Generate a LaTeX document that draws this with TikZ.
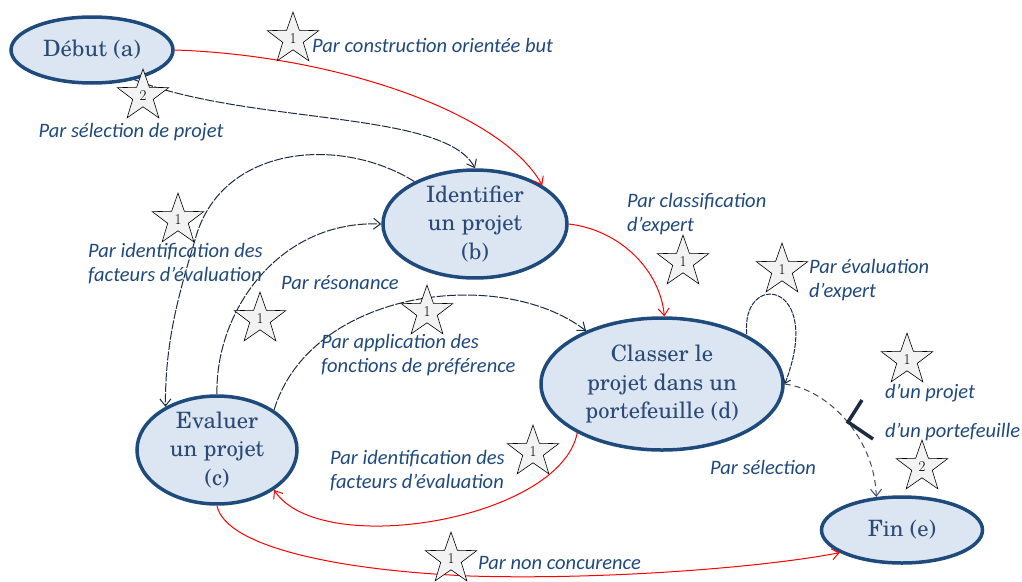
\documentclass[tikz,border=0pt]{standalone}
\usepackage{fontspec}
\newfontfamily\labfont{Carlito}
\newfontfamily\nodefont{texgyreschola-regular.otf}
\usetikzlibrary{shapes.geometric,arrows.meta}
\definecolor{nodefill}{HTML}{DCE6F2}
\definecolor{nodeborder}{HTML}{1F4A7C}
\definecolor{nodetext}{HTML}{2B4A76}
\definecolor{labtext}{HTML}{1F497D}
\definecolor{redline}{HTML}{FF0000}
\definecolor{darkline}{HTML}{1C2B40}
\begin{document}
\begin{tikzpicture}[x=1pt,y=-1pt,
  state/.style={ellipse,draw=nodeborder,line width=3.5pt,fill=nodefill,inner sep=0pt,
    text=nodetext,align=center,font=\nodefont\fontsize{22.5}{28.5}\selectfont},
  starmark/.style={star,star points=5,star point ratio=2.5,minimum size=54pt,inner sep=0pt,
    draw=black,line width=0.6pt,fill=gray!10,font=\fontsize{15}{15}\selectfont},
  lab/.style={inner sep=0pt,text=labtext,align=left,font=\labfont\itshape\fontsize{20.5}{24}\selectfont},
  redarrow/.style={draw=redline,line width=1pt,-{Straight Barb[length=7pt,width=11pt]}},
  darkarrow/.style={draw=darkline,line width=1pt,dash pattern=on 9pt off 1.5pt,-{Straight Barb[length=7pt,width=11pt]}},
  dashedarrow/.style={draw=darkline!85,line width=1pt,dash pattern=on 6pt off 4pt,-{Straight Barb[length=7pt,width=11pt]}}
]
\useasboundingbox (0,0) rectangle (1022,581);

% states
\node[state,minimum width=162pt,minimum height=66pt] (a) at (92,50) {Début (a)};
\node[state,minimum width=184pt,minimum height=100pt] (b) at (475,224) {Identifier\\un projet\\(b)};
\node[state,minimum width=160pt,minimum height=92pt] (c) at (217,450) {Evaluer\\un projet\\(c)};
\node[state,minimum width=242pt,minimum height=132pt] (d) at (662,384) {Classer le\\projet dans un\\portefeuille (d)};
\node[state,minimum width=161pt,minimum height=66pt] (e) at (902,530) {Fin (e)};

% connectors
\draw[redarrow] (a.east) .. controls (330,55) and (500,110) .. (b.30);
\draw[darkarrow] (a.-35) .. controls (250,125) and (445,110) .. (b.north);
\draw[darkarrow] (b.145) .. controls (340,135) and (220,145) .. (195,240)
   .. controls (180,290) and (165,340) .. (c.140);
\draw[darkarrow] (c.north) .. controls (215,310) and (280,220) .. (b.west);
\draw[darkarrow] (c.35) .. controls (310,290) and (500,265) .. (d.145);
\draw[redarrow] (d.-150) .. controls (560,520) and (320,560) .. (c.-35);
\draw[redarrow] (c.south) .. controls (225,545) and (330,570) .. (470,576)
   .. controls (600,580) and (760,568) .. (e.-160);
\draw[redarrow] (b.east) .. controls (620,230) and (660,270) .. (d.88);
\draw[darkarrow,dash pattern=on 5pt off 1pt,{Straight Barb[length=5pt,width=8pt]}-] (d.east) .. controls (825,280) and (740,270) .. (d.30);
\draw[dashedarrow] (d.east) .. controls (830,390) and (875,440) .. (e.128);

% or-junction mark
\coordinate (j1) at (862,400);
\coordinate (j2) at (848,422);
\coordinate (j3) at (873,439);
\draw[darkline,line width=3.5pt] (j1) -- (j2) -- (j3);

% stars
\node[starmark] (s1) at (293,39) {1};
\node[starmark] (s2) at (143,96) {2};
\node[starmark] (s3) at (178,220) {1};
\node[starmark] (s4) at (260,319) {1};
\node[starmark] (s5) at (427,312) {1};
\node[starmark] (s6) at (683,262) {1};
\node[starmark] (s7) at (782,270) {1};
\node[starmark] (s8) at (907,360) {1};
\node[starmark] (s9) at (922,467) {2};
\node[starmark] (s10) at (533,452) {1};
\node[starmark] (s11) at (451,559) {1};

% labels
\node[lab,anchor=west] (l1) at (312,45) {Par construction orientée but};
\node[lab] (l2) at (131,132) {Par sélection de projet};
\node[lab,anchor=west] (l3) at (88,264) {Par identification des\\facteurs d’évaluation};
\node[lab,anchor=west] (l4) at (281,283) {Par résonance};
\node[lab,anchor=west] (l5) at (321,355) {Par application des\\fonctions de préférence};
\node[lab,anchor=west] (l6) at (627,214) {Par classification\\d’expert};
\node[lab,anchor=west] (l7) at (809,280) {Par évaluation\\d’expert};
\node[lab,anchor=west] (l8) at (885,393) {d’un projet};
\node[lab,anchor=west] (l9) at (885,432) {d’un portefeuille};
\node[lab,anchor=west] (l10) at (710,467) {Par sélection};
\node[lab,anchor=west] (l11) at (330,471) {Par identification des\\facteurs d’évaluation};
\node[lab,anchor=west] (l12) at (478,563) {Par non concurence};
\end{tikzpicture}
\end{document}
